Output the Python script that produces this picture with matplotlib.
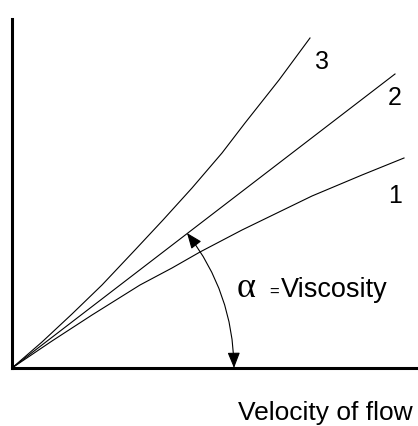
import matplotlib
matplotlib.use("Agg")
import matplotlib.pyplot as plt
from matplotlib.patches import FancyArrowPatch

# Curves (velocity, stress) in arbitrary units
curve1_x = [0, 40, 80, 128, 160, 188, 230, 265, 300, 350, 392]
curve1_y = [0, 27, 53, 83, 100, 116, 138, 155, 172, 193, 210]
curve2_x = [0, 383]
curve2_y = [0, 294]
curve3_x = [0, 30, 60, 90, 123, 151, 180, 210, 233, 267, 298]
curve3_y = [0, 26, 54, 83, 118, 148, 180, 215, 245, 288, 330]
curve_labels = ["1", "2", "3"]
label_pos = [(383, 172), (383, 270), (310, 306)]

plt.rcParams['font.family'] = ['Liberation Sans', 'DejaVu Sans']

fig = plt.figure(figsize=(4.18, 4.26), dpi=100)
ax = fig.add_axes([12/418, 58/426, 406/418, 349/426])
ax.set_xlim(0, 406)
ax.set_ylim(0, 349)

lw = 0.8
ax.plot(curve1_x, curve1_y, color='black', lw=lw)
ax.plot(curve2_x, curve2_y, color='black', lw=lw)
ax.plot(curve3_x, curve3_y, color='black', lw=lw)

for lab, (x, y) in zip(curve_labels, label_pos):
    ax.text(x, y, lab, fontsize=18, ha='center', va='center')

for s in ['top', 'right']:
    ax.spines[s].set_visible(False)
for s in ['left', 'bottom']:
    ax.spines[s].set_linewidth(2.2)
    ax.spines[s].set_capstyle('projecting')
ax.set_xticks([])
ax.set_yticks([])

arrow = FancyArrowPatch((222, 0), (175, 135),
                        connectionstyle="arc3,rad=0.166",
                        arrowstyle="<|-|>,head_length=9.5,head_width=3.8",
                        mutation_scale=1, color='black', lw=0.8,
                        shrinkA=0, shrinkB=0, clip_on=False)
ax.add_patch(arrow)

ax.text(225, 71, "α", fontsize=26, family=['Liberation Serif', 'DejaVu Serif'],
        va='baseline', ha='left')
ax.text(257, 71, "=", fontsize=12, va='baseline', ha='left')
ax.text(269, 71, "Viscosity", fontsize=19.5, va='baseline', ha='left')

fig.text(238/418, 6/426, "Velocity of flow", fontsize=19, va='baseline', ha='left')

fig.savefig("out.png", dpi=100)
